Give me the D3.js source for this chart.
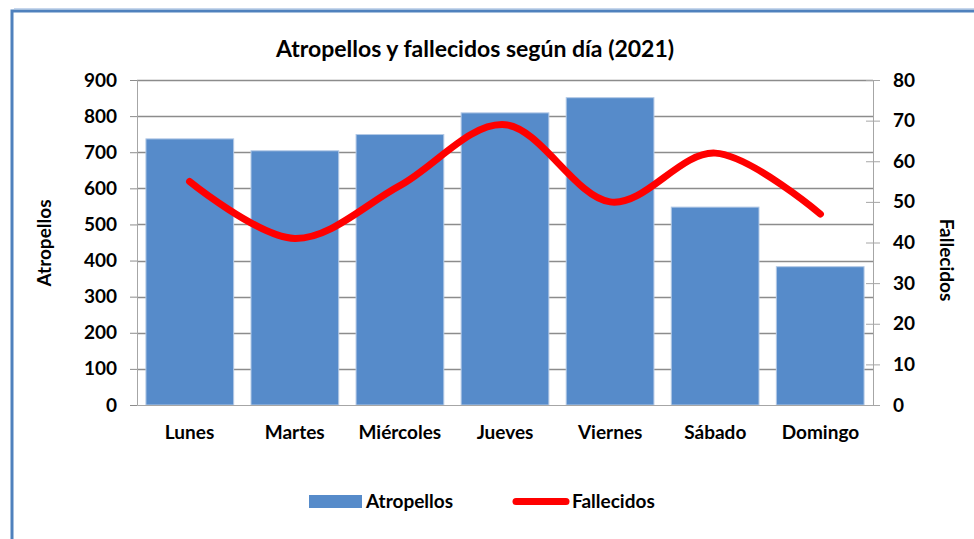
<!DOCTYPE html>
<html>
<head>
<meta charset="utf-8">
<script src="https://cdn.jsdelivr.net/npm/d3@7"></script>
<style>
  body { margin: 0; background: #fff; }
  svg text { font-family: Lato, "Open Sans", sans-serif; font-weight: 700; fill: #000; }
</style>
</head>
<body>
<div id="chart"></div>
<script>
// data
const dias = ["Lunes", "Martes", "Miércoles", "Jueves", "Viernes", "Sábado", "Domingo"];
const atropellos = [737, 704, 749, 809, 851, 548, 383];
const fallecidos = [55, 41, 54, 69, 50, 62, 47];
const leftTicks = [0, 100, 200, 300, 400, 500, 600, 700, 800, 900];
const rightTicks = [0, 10, 20, 30, 40, 50, 60, 70, 80];

const width = 974, height = 539;
const plot = {left: 137, right: 873, top: 80, bottom: 405};
const fs = "19px";

const svg = d3.select("#chart").append("svg")
    .attr("width", width)
    .attr("height", height);

// outer frame (only top and left show in the crop)
svg.append("path")
    .attr("d", `M12,${height} L12,11 L${width},11`)
    .attr("fill", "none")
    .attr("stroke", "#4f81bd")
    .attr("stroke-width", 3);
svg.append("path")
    .attr("d", `M14,8.5 L${width},8.5`)
    .attr("stroke", "#c6d6ec")
    .attr("stroke-width", 1);

svg.append("text")
    .attr("x", 475)
    .attr("y", 57)
    .attr("text-anchor", "middle")
    .attr("font-size", "23px")
    .text("Atropellos y fallecidos según día (2021)");

const x = d3.scaleBand().domain(dias).range([plot.left, plot.right]).paddingInner(0.165).paddingOuter(0.085);
const xc = d3.scaleBand().domain(dias).range([plot.left, plot.right]);
const yL = d3.scaleLinear().domain([0, 900]).range([plot.bottom, plot.top]);
const yR = d3.scaleLinear().domain([0, 80]).range([plot.bottom, plot.top]);

// gridlines
svg.append("g").selectAll("line")
    .data(leftTicks.filter(d => d > 0))
    .enter().append("line")
    .attr("x1", plot.left).attr("x2", plot.right)
    .attr("y1", d => Math.round(yL(d)) + 0.5).attr("y2", d => Math.round(yL(d)) + 0.5)
    .attr("stroke", "#8c8c8c")
    .attr("stroke-width", 1.5);

// bars
svg.append("g").selectAll("rect")
    .data(atropellos)
    .enter().append("rect")
    .attr("x", (d, i) => x(dias[i]))
    .attr("y", d => yL(d))
    .attr("width", x.bandwidth())
    .attr("height", d => plot.bottom - yL(d))
    .attr("fill", "#568bca")
    .attr("stroke", "#b3c9e6")
    .attr("stroke-width", 1);

// left axis
const axL = svg.append("g")
    .attr("transform", `translate(${plot.left},0)`)
    .call(d3.axisLeft(yL).tickValues(leftTicks).tickSize(7).tickPadding(13));
axL.select(".domain").attr("stroke", "#a6a6a6");
axL.selectAll(".tick line").attr("stroke", "#8c8c8c");
axL.selectAll("text").attr("font-size", fs).attr("font-family", null);

// right axis with cross ticks
const axR = svg.append("g")
    .attr("transform", `translate(${plot.right},0)`)
    .call(d3.axisRight(yR).tickValues(rightTicks).tickSize(7).tickPadding(13));
axR.select(".domain").attr("stroke", "#a6a6a6");
axR.selectAll(".tick line").attr("x1", -7).attr("stroke", "#a6a6a6");
axR.selectAll("text").attr("font-size", fs).attr("font-family", null);

// bottom axis
const axB = svg.append("g")
    .attr("transform", `translate(0,${plot.bottom})`)
    .call(d3.axisBottom(xc).tickSize(0).tickPadding(21));
axB.select(".domain").attr("stroke", "#a6a6a6");
axB.selectAll("text").attr("font-size", fs).attr("font-family", null);

// fallecidos smooth line
const line = d3.line()
    .x((d, i) => xc(dias[i]) + xc.bandwidth() / 2)
    .y(d => yR(d))
    .curve(d3.curveCardinal.tension(0));
svg.append("path")
    .datum(fallecidos)
    .attr("d", line)
    .attr("fill", "none")
    .attr("stroke", "#ff0000")
    .attr("stroke-width", 7)
    .attr("stroke-linecap", "round")
    .attr("stroke-linejoin", "round");

// axis titles
svg.append("text")
    .attr("transform", "translate(51,243) rotate(-90)")
    .attr("text-anchor", "middle")
    .attr("font-size", fs)
    .text("Atropellos");
svg.append("text")
    .attr("transform", "translate(940,260) rotate(90)")
    .attr("text-anchor", "middle")
    .attr("font-size", fs)
    .text("Fallecidos");

// legend
svg.append("rect")
    .attr("x", 309).attr("y", 495)
    .attr("width", 53).attr("height", 13)
    .attr("fill", "#568bca");
svg.append("text")
    .attr("x", 366).attr("y", 508)
    .attr("font-size", fs)
    .text("Atropellos");
svg.append("line")
    .attr("x1", 516).attr("x2", 566)
    .attr("y1", 501.5).attr("y2", 501.5)
    .attr("stroke", "#ff0000")
    .attr("stroke-width", 7)
    .attr("stroke-linecap", "round");
svg.append("text")
    .attr("x", 572).attr("y", 508)
    .attr("font-size", fs)
    .text("Fallecidos");
</script>
</body>
</html>
